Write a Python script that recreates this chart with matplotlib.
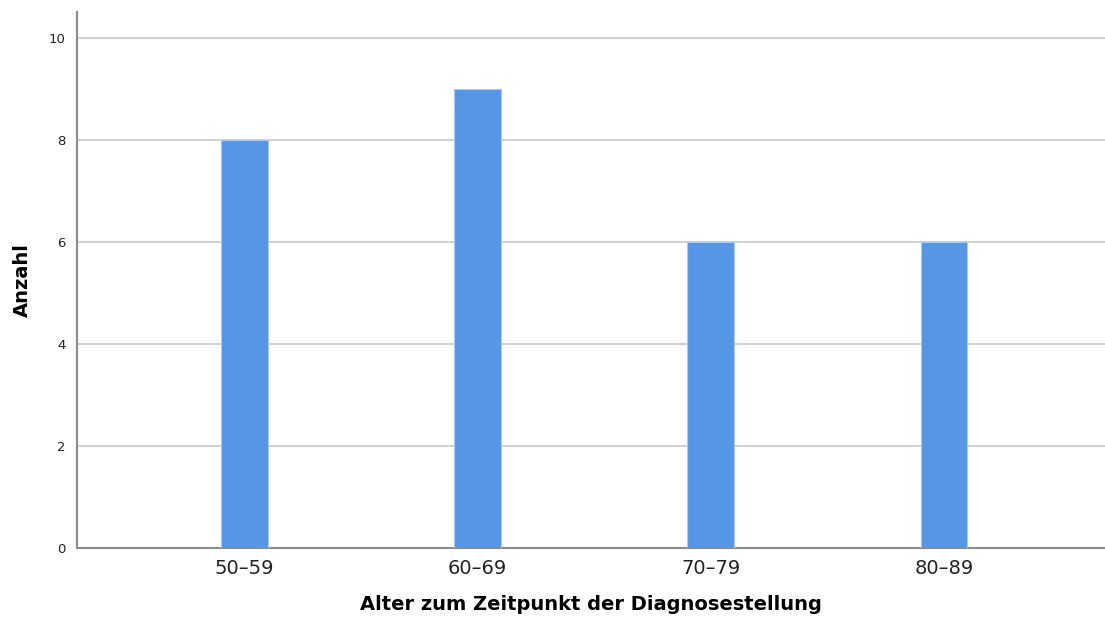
import matplotlib.pyplot as plt

# age groups at diagnosis and counts
categories = ["50\u201359", "60\u201369", "70\u201379", "80\u201389"]
counts = [8, 9, 6, 6]
y_ticks = [0, 2, 4, 6, 8, 10]

fig = plt.figure(figsize=(11.05, 6.23), dpi=100)
ax = fig.add_axes((0.0697, 0.1204, 0.9303, 0.8603))

xs = list(range(len(categories)))
ax.bar(xs, counts, width=0.2, color="#5596e6", edgecolor="#a9c9f0",
       linewidth=0.8, zorder=3)

ax.set_xlim(-0.717, 3.69)
ax.set_ylim(0, 10.5)
ax.set_yticks(y_ticks)
ax.set_xticks(xs)
ax.set_xticklabels(categories, fontsize=14, color="#222222")
ax.tick_params(axis="y", labelsize=9.5, colors="#222222", length=0, pad=8)
ax.tick_params(axis="x", length=0, pad=8)

ax.grid(axis="y", color="#c8c8c8", linewidth=1.2, zorder=0)
for side in ("top", "right"):
    ax.spines[side].set_visible(False)
for side in ("left", "bottom"):
    ax.spines[side].set_color("#8c8c8c")
    ax.spines[side].set_linewidth(1.5)

ax.set_xlabel("Alter zum Zeitpunkt der Diagnosestellung", fontsize=14,
              fontweight="bold", labelpad=12)
ax.set_ylabel("Anzahl", fontsize=14, fontweight="bold", labelpad=12)

fig.savefig("out.png", dpi=100)
